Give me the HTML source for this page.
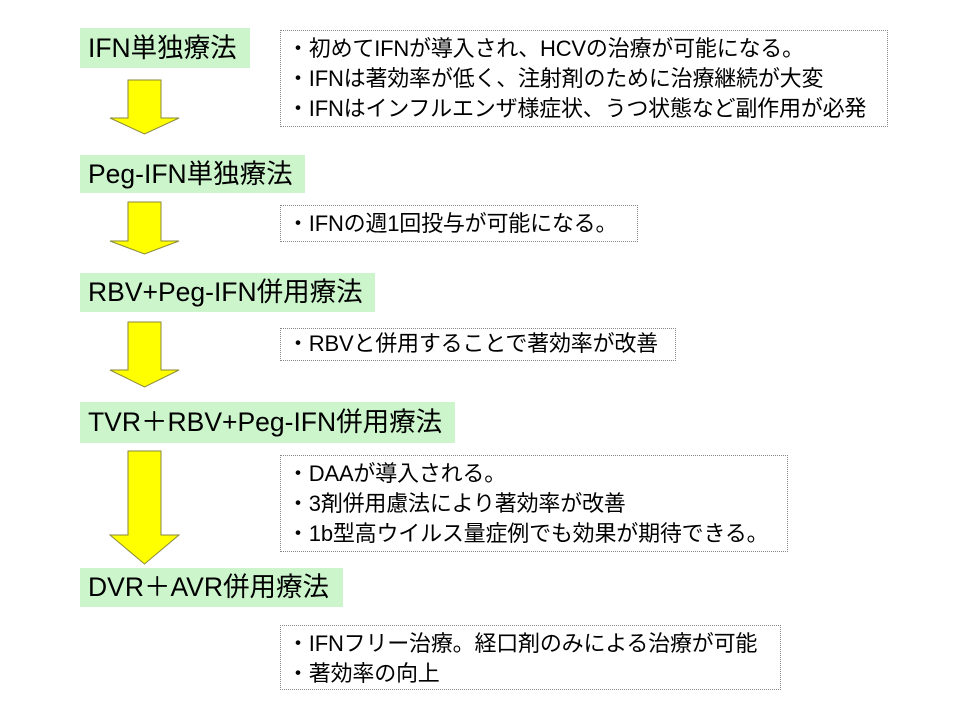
<!DOCTYPE html>
<html><head><meta charset="utf-8"><style>
body{margin:0;width:960px;height:720px;background:#fff;position:relative;overflow:hidden;font-family:"Liberation Sans","Noto Sans CJK JP",sans-serif;color:#000}
.h{position:absolute;left:80px;background:#ccf5cc;font-size:26.5px;line-height:40px;padding-left:8px;white-space:nowrap;box-sizing:border-box}
.b{position:absolute;left:280px;border:1px dotted #888;font-size:22px;line-height:30px;padding:3px 0 0 6px;box-sizing:border-box;white-space:nowrap;letter-spacing:-0.2px}
svg{position:absolute;left:0;top:0}
</style></head><body>
<svg width="960" height="720">
<g fill="#ffff00" stroke="#8a8a3a" stroke-width="1">
<polygon points="128,80 161,80 161,118 179,118 144.5,134 110,118 128,118"/>
<polygon points="128,202 161,202 161,241 179,241 144.5,254 110,241 128,241"/>
<polygon points="128,322 161,322 161,370 179,370 144.5,387 110,370 128,370"/>
<polygon points="128,451 161,451 161,535 179,535 144.5,564 110,535 128,535"/>
</g></svg>
<div class="h" style="top:28px;width:170px;height:40px">IFN単独療法</div>
<div class="h" style="top:155px;width:225px;height:38px;line-height:38px">Peg-IFN単独療法</div>
<div class="h" style="top:273px;width:295px;height:39px;line-height:39px">RBV+Peg-IFN併用療法</div>
<div class="h" style="top:402px;width:375px;height:41px;line-height:41px">TVR＋RBV+Peg-IFN併用療法</div>
<div class="h" style="top:568px;width:263px;height:39px;line-height:39px">DVR＋AVR併用療法</div>
<div class="b" style="top:30px;width:608px;height:97px">・初めてIFNが導入され、HCVの治療が可能になる。<br>・IFNは著効率が低く、注射剤のために治療継続が大変<br>・IFNはインフルエンザ様症状、うつ状態など副作用が必発</div>
<div class="b" style="top:205px;width:358px;height:37px">・IFNの週1回投与が可能になる。</div>
<div class="b" style="top:328px;width:396px;height:33px;padding-top:0">・RBVと併用することで著効率が改善</div>
<div class="b" style="top:455px;width:508px;height:97px">・DAAが導入される。<br>・3剤併用慮法により著効率が改善<br>・1b型高ウイルス量症例でも効果が期待できる。</div>
<div class="b" style="top:625px;width:501px;height:65px">・IFNフリー治療。経口剤のみによる治療が可能<br>・著効率の向上</div>
</body></html>
